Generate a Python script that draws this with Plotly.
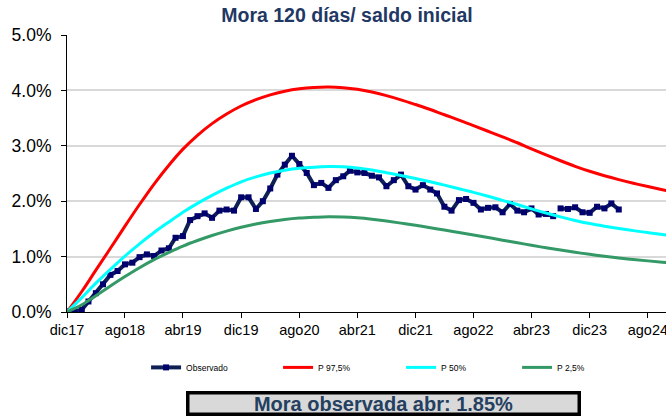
import plotly.graph_objects as go
import pandas as pd

# ---------------- data ----------------
obs_months = pd.date_range("2017-12-01", periods=77, freq="MS")
observado = [0.01, 0.01, 0.04, 0.19, 0.34, 0.50, 0.67, 0.74, 0.86, 0.89,
             0.99, 1.04, 1.01, 1.11, 1.15, 1.34, 1.37, 1.66, 1.73, 1.78,
             1.70, 1.83, 1.85, 1.83, 2.07, 2.07, 1.86, 2.00, 2.23, 2.48,
             2.66, 2.82, 2.67, 2.51, 2.29, 2.33, 2.24, 2.38, 2.45, 2.55,
             2.52, 2.51, 2.46, 2.43, 2.27, 2.38, 2.48, 2.27, 2.21, 2.29,
             2.21, 2.14, 1.90, 1.83, 2.02, 2.04, 1.97, 1.85, 1.88, 1.89,
             1.80, 1.95, 1.83, 1.80, 1.87, 1.76, 1.77, 1.73, 1.87, 1.86,
             1.89, 1.80, 1.79, 1.90, 1.87, 1.96, 1.85]
obs_break = 68  # the observed line is interrupted between jul23 and ago23

curve_months = pd.date_range("2017-12-01", periods=43, freq="2MS")
p975 = [0.00, 0.37, 0.755, 1.15, 1.55, 1.94, 2.31, 2.65, 2.94, 3.19,
        3.40, 3.574, 3.718, 3.832, 3.92, 3.985, 4.029, 4.054, 4.062,
        4.05, 4.02, 3.97, 3.905, 3.83, 3.745, 3.655, 3.56, 3.465, 3.365,
        3.263, 3.16, 3.055, 2.945, 2.835, 2.73, 2.63, 2.54, 2.46, 2.39,
        2.325, 2.265, 2.208, 2.153]
p50 = [0.00, 0.26, 0.52, 0.77, 1.01, 1.23, 1.435, 1.625, 1.80, 1.96,
       2.105, 2.235, 2.35, 2.44, 2.51, 2.56, 2.595, 2.615, 2.625,
       2.62, 2.60, 2.565, 2.515, 2.465, 2.41, 2.35, 2.29, 2.225, 2.16,
       2.09, 2.015, 1.94, 1.862, 1.787, 1.717, 1.653, 1.597, 1.549, 1.507,
       1.469, 1.433, 1.398, 1.364]
p25 = [0.00, 0.13, 0.295, 0.47, 0.64, 0.80, 0.945, 1.075, 1.19, 1.29,
       1.38, 1.46, 1.53, 1.59, 1.635, 1.67, 1.695, 1.71, 1.72,
       1.715, 1.70, 1.675, 1.642, 1.604, 1.564, 1.522, 1.479, 1.435, 1.39,
       1.344, 1.297, 1.25, 1.204, 1.16, 1.118, 1.078, 1.041, 1.007, 0.976,
       0.948, 0.923, 0.90, 0.879]

tick_dates = pd.date_range("2017-12-01", periods=11, freq="8MS")
tick_labels = ["dic17", "ago18", "abr19", "dic19", "ago20", "abr21",
               "dic21", "ago22", "abr23", "dic23", "ago24"]
y_ticks = [0, 1, 2, 3, 4, 5]
y_tick_labels = ["0.0%", "1.0%", "2.0%", "3.0%", "4.0%", "5.0%"]

title_text = "Mora 120 días/ saldo inicial"
box_text = "Mora observada abr: 1.85%"

# ---------------- styling ----------------
FONT = "Arial, Liberation Sans, sans-serif"
NAVY_LINE = "#0F2154"
NAVY_MARK = "#00006E"

fig = go.Figure()

fig.add_trace(go.Scatter(
    x=obs_months[:obs_break], y=observado[:obs_break], name="Observado",
    mode="lines+markers", legendgroup="obs", legendwidth=87,
    line=dict(color=NAVY_LINE, width=4),
    marker=dict(symbol="square", size=6, color=NAVY_MARK,
                line=dict(color=NAVY_MARK, width=0)),
))
fig.add_trace(go.Scatter(
    x=obs_months[obs_break:], y=observado[obs_break:], name="Observado",
    mode="lines+markers", legendgroup="obs", showlegend=False,
    line=dict(color=NAVY_LINE, width=4),
    marker=dict(symbol="square", size=6, color=NAVY_MARK,
                line=dict(color=NAVY_MARK, width=0)),
))
fig.add_trace(go.Scatter(
    x=curve_months, y=p975, name="P 97,5%", mode="lines", legendwidth=78,
    line=dict(color="#FF0000", width=3, shape="spline", smoothing=1.0),
))
fig.add_trace(go.Scatter(
    x=curve_months, y=p50, name="P 50%", mode="lines", legendwidth=71,
    line=dict(color="#00FFFF", width=3, shape="spline", smoothing=1.0),
))
fig.add_trace(go.Scatter(
    x=curve_months, y=p25, name="P 2,5%", mode="lines", legendwidth=60,
    line=dict(color="#339966", width=3, shape="spline", smoothing=1.0),
))

fig.update_layout(
    template="none",
    width=666, height=418,
    margin=dict(l=67, r=0, t=35, b=105.5, pad=0),
    paper_bgcolor="white", plot_bgcolor="white",
    font=dict(family=FONT, color="#000000"),
    title=dict(text="<b>" + title_text + "</b>", x=0.521, xanchor="center",
               y=1 - 15 / 418, yanchor="middle", yref="container",
               font=dict(family=FONT, size=19.5, color="#1F3864")),
    showlegend=True,
    legend=dict(orientation="h", x=0.132, xanchor="left", y=-0.2,
                yanchor="middle", font=dict(family=FONT, size=8.5, color="#000"),
                bgcolor="rgba(0,0,0,0)", borderwidth=0, itemwidth=30,
                traceorder="normal"),
    xaxis=dict(
        range=["2017-12-01", "2024-10-16"],
        tickmode="array", tickvals=tick_dates, ticktext=tick_labels,
        ticks="outside", ticklen=5, tickcolor="#000", tickwidth=1,
        showline=True, linecolor="#000", linewidth=1,
        showgrid=False, zeroline=False, automargin=False,
        ticklabeloverflow="allow",
        tickfont=dict(family=FONT, size=14.5, color="#000"),
    ),
    yaxis=dict(
        range=[0, 5], tickmode="array", tickvals=y_ticks,
        ticktext=y_tick_labels,
        ticks="outside", ticklen=5, tickcolor="#000", tickwidth=1,
        showline=True, linecolor="#000", linewidth=1,
        showgrid=True, gridcolor="#D9D9D9", gridwidth=1.5,
        zeroline=False, automargin=False, ticklabelstandoff=6,
        ticklabeloverflow="allow",
        tickfont=dict(family=FONT, size=17.5, color="#000"),
    ),
    annotations=[dict(
        text="<b>" + box_text + "</b>", xref="paper", yref="paper",
        x=0.528, y=-0.3315, xanchor="center", yanchor="middle",
        showarrow=False, width=386, height=16, align="center",
        bgcolor="#D9D9D9", bordercolor="#000000", borderwidth=3.5, borderpad=1,
        font=dict(family=FONT, size=20, color="#243F60"),
    )],
)

fig.write_html(
    "out.html",
    config={"displayModeBar": False},
    post_script="document.body.style.margin='0px';"
                "document.body.style.overflow='hidden';",
)
